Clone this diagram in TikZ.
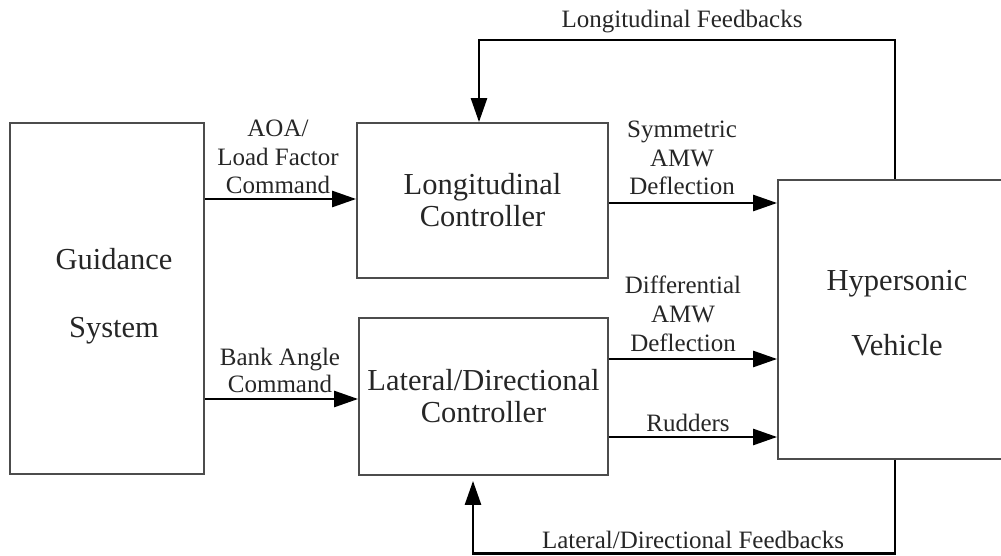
\documentclass[tikz,border=0pt]{standalone}
\usepackage{fontspec}
\setmainfont{Liberation Serif}
\usetikzlibrary{arrows.meta}
\tikzset{
  blk/.style={draw=black!70, line width=1.8pt, rectangle, inner sep=0pt},
  blktext/.style={font=\fontsize{30.5}{32}\selectfont, align=center, inner sep=0pt, text=black!85},
  lbl/.style={font=\fontsize{25}{28.5}\selectfont, align=center, inner sep=0pt, text=black!85},
  conn/.style={line width=2.6pt, -{Triangle[length=24pt,width=16pt]}},
}
\begin{document}
\begin{tikzpicture}[x=1pt,y=-1pt]
\useasboundingbox (0,0) rectangle (1001,556);
% blocks
\node[blk, minimum width=194pt, minimum height=351pt] (guid) at (107,298.5) {};
\node[blktext, font=\fontsize{30.5}{68}\selectfont] (guidtxt) at (114,296) {Guidance\\System};
\node[blk, minimum width=251pt, minimum height=155pt, blktext] (long) at (482.5,200.5) {Longitudinal\\Controller};
\node[blk, minimum width=249pt, minimum height=157pt, blktext] (lat) at (483.5,396.5) {Lateral/Directional\\Controller};
\node[blk, minimum width=226pt, minimum height=279pt] (veh) at (891,319.5) {};
\node[blktext, font=\fontsize{30.5}{65}\selectfont] (vehtxt) at (897,313) {Hypersonic\\Vehicle};
% forward connectors
\draw[conn] (guid.east |- 0,199) -- (long.west |- 0,199);
\draw[conn] (guid.east |- 0,399) -- (lat.west |- 0,399);
\draw[conn] (long.east |- 0,203) -- (veh.west |- 0,203);
\draw[conn] (lat.east |- 0,359) -- (veh.west |- 0,359);
\draw[conn] (lat.east |- 0,437) -- (veh.west |- 0,437);
% feedback loops
\coordinate (lf1) at (895,40);
\coordinate (lf2) at (479,40);
\draw[conn] (veh.north -| lf1) -- (lf1) -- (lf2) -- (long.north -| lf2);
\coordinate (df1) at (895,553.5);
\coordinate (df2) at (473,553.5);
\draw[conn, shorten >=5pt] (veh.south -| df1) -- (df1) -- (df2) -- (lat.south -| df2);
% labels
\node[lbl] (l1) at (278,157) {AOA/\\Load Factor\\Command};
\node[lbl, font=\fontsize{25}{27}\selectfont] (l2) at (280,370.5) {Bank Angle\\Command};
\node[lbl] (l3) at (682,158) {Symmetric\\AMW\\Deflection};
\node[lbl, font=\fontsize{25}{29}\selectfont] (l4) at (683,314) {Differential\\AMW\\Deflection};
\node[lbl] (l5) at (688,423) {Rudders};
\node[lbl] (l6) at (682,22) {Longitudinal Feedbacks};
\node[lbl] (l7) at (693,540) {Lateral/Directional Feedbacks};
\end{tikzpicture}
\end{document}
